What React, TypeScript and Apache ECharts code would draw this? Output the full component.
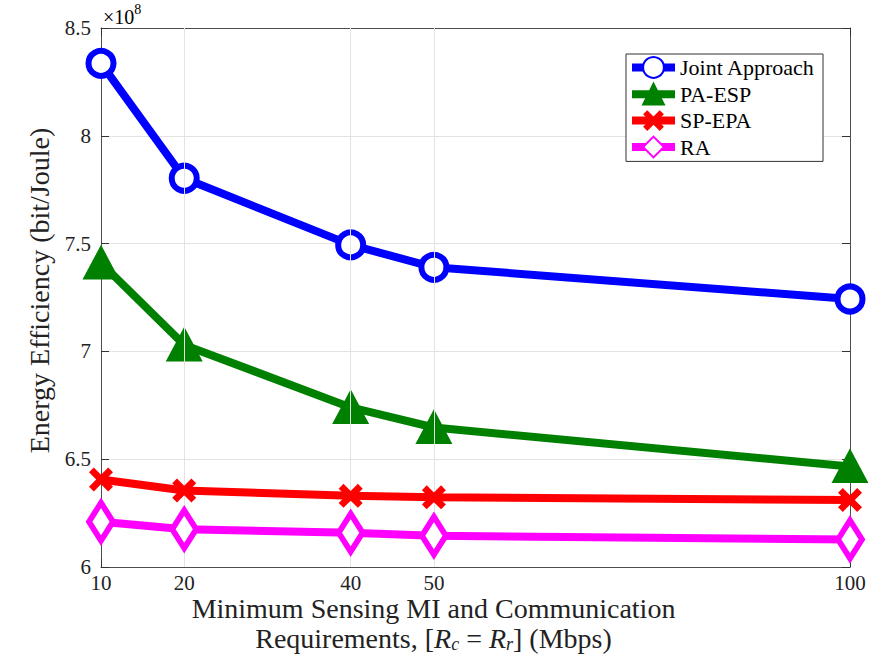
import React, { useEffect, useRef } from "react";
import * as echarts from "echarts";

// values in units of 10^8 bit/Joule
const xValues = [10, 20, 40, 50, 100];
const xTicks = [10, 20, 40, 50, 100];
const jointApproach = [8.336, 7.803, 7.494, 7.39, 7.243];
const paEsp = [7.41, 7.03, 6.74, 6.647, 6.466];
const spEpa = [6.406, 6.355, 6.33, 6.323, 6.311];
const ra = [6.21, 6.175, 6.159, 6.145, 6.128];
const seriesNames = ["Joint Approach", "PA-ESP", "SP-EPA", "RA"];

const FONT = "Liberation Serif";
const xPath = "path://M0,2 L2,0 L5,3 L8,0 L10,2 L7,5 L10,8 L8,10 L5,7 L2,10 L0,8 L3,5 Z";

export default function App() {
  const ref = useRef<HTMLDivElement>(null);
  useEffect(() => {
    document.body.style.margin = "0";
    const chart = echarts.init(ref.current!, null, { renderer: "svg" });
    const pair = (ys: number[]) => xValues.map((x, i) => [x, ys[i]]);
    const axisLine = { show: true, lineStyle: { color: "#4d4d4d", width: 1 } };
    chart.setOption({
      animation: false,
      backgroundColor: "#fff",
      textStyle: { fontFamily: FONT },
      grid: { left: 101, top: 28, right: 22, bottom: 87, containLabel: false, outerBoundsMode: "none" },
      legend: {
        data: seriesNames,
        orient: "vertical",
        left: 626,
        top: 54,
        width: 201,
        padding: [2, 8, 3, 2],
        itemGap: 4,
        itemWidth: 43,
        itemHeight: 26,
        backgroundColor: "#fff",
        borderColor: "#333",
        borderWidth: 1,
        borderRadius: 0,
        lineStyle: { width: 8 },
        textStyle: { fontFamily: FONT, fontSize: 22, color: "#000" },
      },
      xAxis: [
        {
          type: "value",
          min: 10,
          max: 100,
          axisLine,
          axisTick: { show: true, inside: true, length: 8, customValues: xTicks, lineStyle: { color: "#333" } },
          axisLabel: { customValues: xTicks, fontFamily: FONT, fontSize: 21, color: "#222", margin: 5 },
          splitLine: { show: false },
          name:
            "{t|Minimum Sensing MI and Communication}\n{t|Requirements, [}{i|R}{s|c}{t| = }{i|R}{s|r}{t|] (Mbps)}",
          nameLocation: "middle",
          nameGap: 26,
          nameMoveOverlap: false,
          nameTextStyle: {
            fontFamily: FONT,
            color: "#222",
            lineHeight: 30,
            padding: [0, 84, 0, 0],
            rich: {
              t: { fontFamily: FONT, fontSize: 28, color: "#222", lineHeight: 30 },
              i: { fontFamily: FONT, fontSize: 28, fontStyle: "italic", color: "#222", lineHeight: 30 },
              s: { fontFamily: FONT, fontSize: 18, fontStyle: "italic", color: "#222", padding: [12, 0, 0, 0] },
            },
          },
        },
        {
          type: "value",
          position: "top",
          min: 10,
          max: 100,
          axisLine,
          axisTick: { show: true, inside: true, length: 8, customValues: xTicks, lineStyle: { color: "#333" } },
          axisLabel: { show: false },
          splitLine: { show: false },
        },
      ],
      yAxis: [
        {
          type: "value",
          min: 6,
          max: 8.5,
          interval: 0.5,
          axisLine,
          axisTick: { show: true, inside: true, length: 8, lineStyle: { color: "#333" } },
          axisLabel: {
            fontFamily: FONT,
            fontSize: 21,
            color: "#222",
            margin: 10,
            formatter: (v: number) => String(Math.round(v * 10) / 10),
          },
          splitLine: { show: true, lineStyle: { color: "#e3e3e3", width: 1 } },
          name: "Energy Efficiency (bit/Joule)",
          nameLocation: "middle",
          nameGap: 48,
          nameMoveOverlap: false,
          nameTextStyle: { fontFamily: FONT, fontSize: 28, color: "#222", padding: [0, 0, 0, 14] },
        },
        {
          type: "value",
          position: "right",
          min: 6,
          max: 8.5,
          interval: 0.5,
          axisLine,
          axisTick: { show: true, inside: true, length: 8, lineStyle: { color: "#333" } },
          axisLabel: { show: false },
          splitLine: { show: false },
        },
      ],
      graphic: [
        {
          type: "text",
          left: 103,
          top: 2,
          style: {
            text: "{a|×10}{b|8}",
            rich: {
              a: { fontFamily: FONT, fontSize: 20, color: "#222", padding: [8, 0, 0, 0] },
              b: { fontFamily: FONT, fontSize: 14, color: "#222", padding: [0, 0, 8, 0] },
            },
          },
        },
      ],
      series: [
        {
          type: "line",
          name: "__grid",
          data: [],
          silent: true,
          z: 0,
          markLine: {
            silent: true,
            symbol: "none",
            label: { show: false },
            lineStyle: { color: "#e3e3e3", width: 1, type: "solid" },
            data: xTicks.slice(1, -1).map((x) => ({ xAxis: x })),
          },
        },
        {
          type: "line",
          name: seriesNames[0],
          data: pair(jointApproach),
          symbol: "circle",
          symbolSize: 25,
          lineStyle: { color: "#0000ff", width: 8 },
          itemStyle: { color: "#ffffff", borderColor: "#0000ff", borderWidth: 6 },
          color: "#0000ff",
          z: 3,
        },
        {
          type: "line",
          name: seriesNames[1],
          data: pair(paEsp),
          symbol: "triangle",
          symbolSize: [32, 30],
          lineStyle: { color: "#008000", width: 8 },
          itemStyle: { color: "#008000", borderColor: "#008000", borderWidth: 3 },
          color: "#008000",
          z: 4,
        },
        {
          type: "line",
          name: seriesNames[2],
          data: pair(spEpa),
          symbol: xPath,
          symbolSize: 24,
          lineStyle: { color: "#ff0000", width: 8 },
          itemStyle: { color: "#ff0000" },
          color: "#ff0000",
          z: 5,
        },
        {
          type: "line",
          name: seriesNames[3],
          data: pair(ra),
          symbol: "diamond",
          symbolSize: [24, 38],
          lineStyle: { color: "#ff00ff", width: 8 },
          itemStyle: { color: "#ffffff", borderColor: "#ff00ff", borderWidth: 6 },
          color: "#ff00ff",
          z: 6,
        },
      ],
    });
    return () => chart.dispose();
  }, []);
  return <div ref={ref} style={{ width: 872, height: 654 }} />;
}
